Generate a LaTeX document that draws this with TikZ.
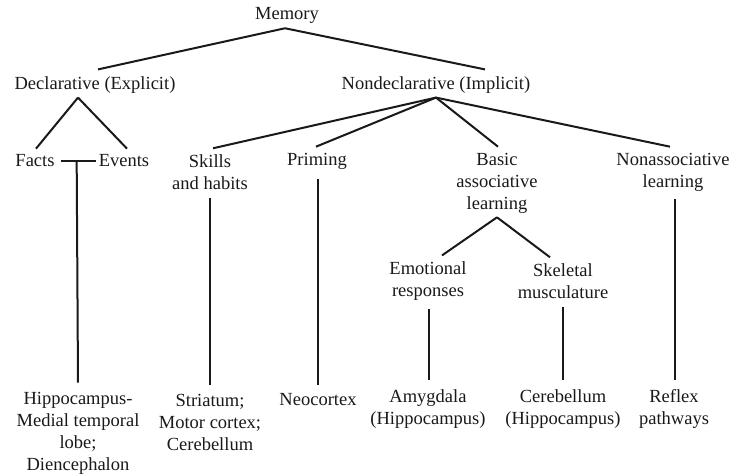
\documentclass[tikz,border=0pt]{standalone}
\usepackage{fontspec}
\setmainfont{Liberation Serif}
\usetikzlibrary{calc}
\begin{document}
\begin{tikzpicture}[x=1pt,y=-1pt,
  lbl/.style={inner sep=1pt,align=center,font=\fontsize{18.5}{22}\selectfont,text=black!90},
  conn/.style={line width=2pt,black!90}]
\useasboundingbox (0,0) rectangle (741,476);
\node[lbl] (mem) at (287,15) {Memory};
\node[lbl] (decl) at (95,85) {Declarative (Explicit)};
\node[lbl] (nond) at (436,85) {Nondeclarative (Implicit)};
\node[lbl] (facts) at (35,161) {Facts};
\node[lbl] (events) at (124,161) {Events};
\node[lbl] (skills) at (210,172) {Skills\\and habits};
\node[lbl] (priming) at (317,161) {Priming};
\node[lbl] (basic) at (497,183) {Basic\\associative\\learning};
\node[lbl] (nonassoc) at (673,172) {Nonassociative\\learning};
\node[lbl] (emot) at (428,281) {Emotional\\responses};
\node[lbl] (skel) at (563,281) {Skeletal\\musculature};
\node[lbl] (hippo) at (78,433) {Hippocampus-\\Medial temporal\\lobe;\\Diencephalon};
\node[lbl] (stria) at (210,422) {Striatum;\\Motor cortex;\\Cerebellum};
\node[lbl] (neo) at (318,400) {Neocortex};
\node[lbl] (amyg) at (428,409) {Amygdala\\(Hippocampus)};
\node[lbl] (cereb) at (563,409) {Cerebellum\\(Hippocampus)};
\node[lbl] (reflex) at (674,409) {Reflex\\pathways};
% top level
\draw[conn] ([xshift=-2pt,yshift=-4pt]mem.south) -- ([xshift=3pt,yshift=6pt]decl.north);
\draw[conn] ([xshift=-2pt,yshift=-4pt]mem.south) -- ([xshift=49pt,yshift=6pt]nond.north);
% declarative
\draw[conn] ([xshift=-17pt,yshift=-3pt]decl.south) -- ([xshift=1pt,yshift=5pt]facts.north);
\draw[conn] ([xshift=-17pt,yshift=-3pt]decl.south) -- ([xshift=3pt,yshift=5pt]events.north);
\draw[conn] ([xshift=5pt]facts.east) -- ([xshift=-2pt]events.west);
\draw[conn] ($(facts.east)!0.5!(events.west)$) -- ([yshift=8pt]hippo.north);
% nondeclarative
\draw[conn] ([yshift=-3pt]nond.south) -- ([xshift=3pt,yshift=5pt]skills.north);
\draw[conn] ([yshift=-3pt]nond.south) -- ([xshift=-1pt,yshift=5pt]priming.north);
\draw[conn] ([yshift=-3pt]nond.south) -- ([xshift=1pt,yshift=5pt]basic.north);
\draw[conn] ([yshift=-3pt]nond.south) -- ([xshift=-3pt,yshift=5pt]nonassoc.north);
% verticals
\draw[conn] ([yshift=-7pt]skills.south) -- ([yshift=8pt]stria.north);
\draw[conn] ([xshift=1pt,yshift=-9pt]priming.south) -- ([yshift=8pt]neo.north);
\draw[conn] ([xshift=2pt,yshift=-7pt]nonassoc.south) -- ([xshift=1pt,yshift=8pt]reflex.north);
% basic associative
\draw[conn] ([yshift=-3pt]basic.south) -- ([xshift=14pt,yshift=5pt]emot.north);
\draw[conn] ([yshift=-3pt]basic.south) -- ([xshift=-13pt,yshift=5pt]skel.north);
\draw[conn] ([xshift=1pt,yshift=-7pt]emot.south) -- ([xshift=1pt,yshift=8pt]amyg.north);
\draw[conn] ([yshift=-7pt]skel.south) -- ([yshift=8pt]cereb.north);
\end{tikzpicture}
\end{document}
